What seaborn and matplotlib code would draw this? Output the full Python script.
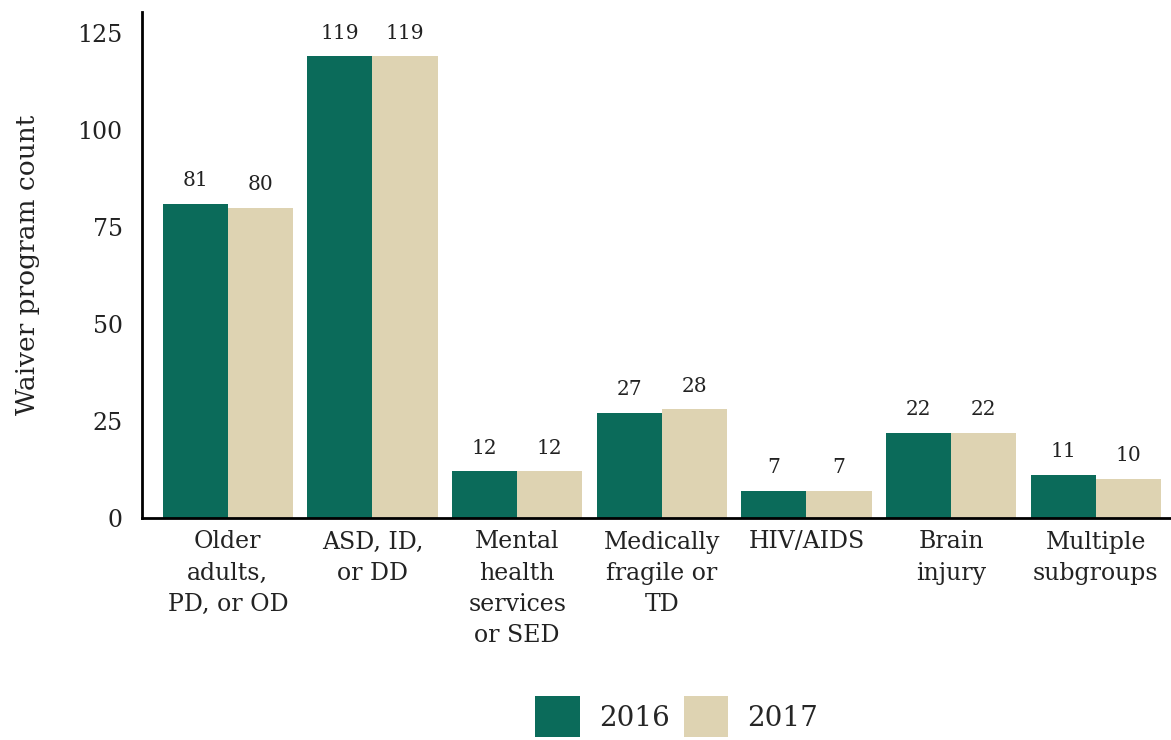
import pandas as pd
import seaborn as sns
import matplotlib.pyplot as plt

# data
categories = [
    "Older\nadults,\nPD, or OD",
    "ASD, ID,\nor DD",
    "Mental\nhealth\nservices\nor SED",
    "Medically\nfragile or\nTD",
    "HIV/AIDS",
    "Brain\ninjury",
    "Multiple\nsubgroups",
]
counts_2016 = [81, 119, 12, 27, 7, 22, 11]
counts_2017 = [80, 119, 12, 28, 7, 22, 10]
years = ["2016", "2017"]
palette = {"2016": "#0b6b5a", "2017": "#ded3b2"}

df = pd.concat([
    pd.DataFrame({"group": categories, "year": years[0], "count": counts_2016}),
    pd.DataFrame({"group": categories, "year": years[1], "count": counts_2017}),
])

sns.set_style("white")
plt.rcParams["font.family"] = ["DejaVu Serif"]

fig = plt.figure(figsize=(11.71, 7.40), dpi=100)
ax = fig.add_axes([0.1213, 0.30, 0.8787, 0.684])

sns.barplot(data=df, x="group", y="count", hue="year", palette=palette,
            width=0.9, gap=0, saturation=1, ax=ax, errorbar=None,
            linewidth=0, edgecolor="none")

for cont in ax.containers:
    ax.bar_label(cont, padding=10, fontsize=14.5, color="#222222")

ax.set_ylim(0, 130.5)
ax.set_xlim(-0.593, 6.52)
ax.set_yticks([0, 25, 50, 75, 100, 125])
ax.tick_params(axis="y", labelsize=17, length=0, pad=14, colors="#222222")
ax.tick_params(axis="x", labelsize=17, length=0, pad=9, colors="#222222")
for lab in ax.get_xticklabels():
    lab.set_linespacing(1.45)
ax.set_xlabel("")
ax.set_ylabel("Waiver program count", fontsize=19, labelpad=27, color="#222222")

sns.despine(ax=ax)
for side in ["left", "bottom"]:
    ax.spines[side].set_color("black")
    ax.spines[side].set_linewidth(2)

ax.legend_.remove()
handles, labels = ax.get_legend_handles_labels()
fig.legend(handles, labels, loc="lower center", bbox_to_anchor=(0.578, -0.03),
           ncol=2, frameon=False, fontsize=20, handlelength=1.6, handleheight=1.9,
           handletextpad=0.7, columnspacing=0.5)

fig.savefig("out.png", dpi=100)
